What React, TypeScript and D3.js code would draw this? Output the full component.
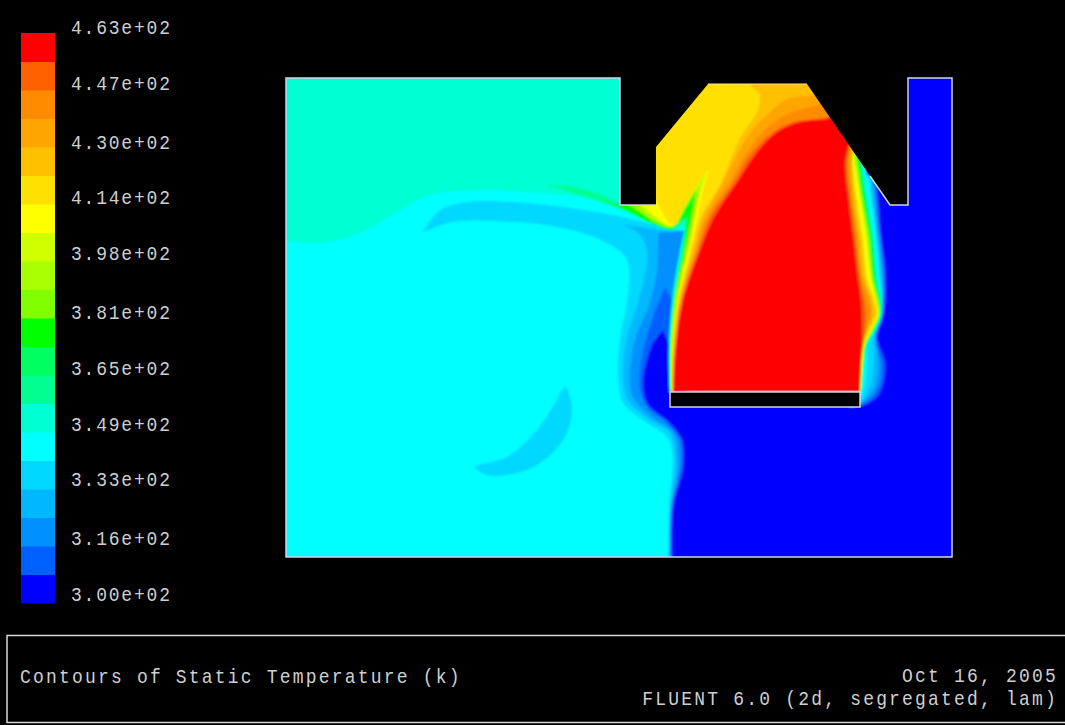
import React from "react";
import * as d3 from "d3";

type Pt = [number, number];

// Contour band colours, coolest to hottest
const bandColors = [
  "#0000ff", "#0060ff", "#0090ff", "#00b8ff", "#00d8ff",
  "#00ffff", "#00ffd2", "#00ff90", "#00ff60", "#00ff00",
  "#7fff00", "#a8ff00", "#d0ff00", "#ffff00", "#ffe000",
  "#ffc000", "#ffa500", "#ff8c00", "#ff6000", "#ff0000",
];
const tickValues = [463, 447, 430, 414, 398, 381, 365, 349, 333, 316, 300];
const tickLabels = [
  "4.63e+02", "4.47e+02", "4.30e+02", "4.14e+02", "3.98e+02", "3.81e+02",
  "3.65e+02", "3.49e+02", "3.33e+02", "3.16e+02", "3.00e+02",
];

// Geometry in mesh units (origin at the lower-left corner of the domain)
const DOMAIN: Pt[] = [[0,479],[334,479],[334,352],[370,352],[370,410],[422,473],[521,473],[604,352],[622,352],[622,479],[666,479],[666,0],[0,0]];
const WALL_LINE: Pt[] = [[370,352],[334,352],[334,479],[0,479],[0,0],[666,0],[666,479],[622,479],[622,352],[604,352],[584,381]];
const CHAMBER_TOP: Pt[] = [[422,473],[521,473]];
const OBSTACLE: Pt[] = [[384,165],[574,150]];

// Cool contours
const MINT_EDGE: Pt[] = [[-6,317],[34,314],[74,324],[109,344],[144,362],[194,367],[254,364],[314,357],[334,349],[354,339],[374,329],[386,326]];
const MINT_CLOSE: Pt[] = [[404,332],[404,497],[-6,497]];
const ARCH_TOP: Pt[] = [[136,324],[154,347],[181,355],[227,355],[277,350],[327,342],[361,334],[384,327]];
const ARCH_CLOSE: Pt[] = [[414,327],[414,497],[674,497],[674,-3],[382,-3]];
const ARCH_LOW: Pt[] = [[382,0],[383,50],[386,104],[381,120],[361,134],[337,154],[332,180],[334,220],[341,254],[341,297],[321,314],[277,329],[227,335],[167,335],[136,324]];
const CRESCENT: Pt[] = [[279,170],[286,147],[277,117],[251,92],[221,82],[201,82],[189,90],[221,100],[251,127],[269,154]];
const B3_TOP: Pt[] = [[337,332],[361,329],[386,325]];
const B3_CLOSE: Pt[] = [[414,325],[414,497],[674,497],[674,-3],[383,-3]];
const B3_LOW: Pt[] = [[383,0],[384,50],[389,95],[384,124],[364,137],[342,157],[337,180],[341,220],[352,254],[361,304],[354,322],[337,332]];
const B2_TOP: Pt[] = [[372,324],[392,326]];
const B2_CLOSE: Pt[] = [[414,326],[414,497],[674,497],[674,-3],[384,-3]];
const B2_LOW: Pt[] = [[384,0],[385,50],[392,92],[387,124],[367,139],[347,160],[344,180],[349,217],[364,254],[371,287],[372,324]];
const B1_CLOSE: Pt[] = [[379,270],[386,257],[394,257],[404,327],[404,497],[674,497],[674,-3],[385,-3]];
const B1_LOW: Pt[] = [[385,0],[386,50],[395,90],[394,117],[390,124],[377,137],[362,149],[354,167],[354,187],[359,214],[367,240],[379,270]];
const B0_CLOSE: Pt[] = [[377,227],[383,212],[394,212],[404,327],[404,497],[674,497],[674,-3],[386,-3]];
const B0_LOW: Pt[] = [[386,0],[387,50],[397,90],[396,117],[392,124],[381,137],[371,144],[361,154],[357,174],[361,197],[367,214],[377,227]];

// Plume on the right of the flame
const R1: Pt[] = [[590,379],[592,360],[595,320],[599,287],[599,257],[596,237],[591,220],[599,194],[597,174],[591,160],[576,151]];
const R2: Pt[] = [[588,379],[590,360],[594,320],[598,287],[598,257],[595,237],[590,220],[595,194],[594,174],[586,160],[575,152]];
const R3: Pt[] = [[586,381],[588,360],[592,320],[596,277],[597,257],[594,237],[589,220],[592,197],[590,174],[582,160],[575,153]];
const R4: Pt[] = [[585,382],[586,360],[591,320],[595,277],[596,257],[593,237],[588,220],[588,197],[585,174],[579,160],[575,154]];
const R5: Pt[] = [[580,387],[585,360],[590,320],[594,277],[596,257],[596,242],[590,227],[582,212],[581,192],[579,172],[575,157]];
const R7: Pt[] = [[576,392],[581,360],[587,320],[591,277],[595,257],[595,242],[589,227],[581,212],[578,192],[575,165]];
const R9: Pt[] = [[574,395],[578,360],[585,320],[589,277],[593,257],[594,242],[588,227],[580,212],[577,192],[575,165]];
const R11: Pt[] = [[571,399],[576,360],[583,320],[587,277],[592,257],[593,242],[587,227],[579,212],[576.5,192],[574.5,165]];
const R13: Pt[] = [[567,402],[574,360],[580,320],[585,277],[590,257],[592,242],[585,227],[578,212],[576,192],[574,165]];
const R14: Pt[] = [[565,405],[571,360],[577,320],[582,277],[589,257],[591,242],[584,227],[577.5,212],[574,165]];
const R15: Pt[] = [[566,402],[569,360],[575,320],[580,277],[587,257],[589,242],[583,227],[577,212],[574,165]];
const R16: Pt[] = [[566,407],[565,394],[567,360],[573,320],[578,277],[585,257],[587,242],[581,227],[576.5,212],[574,165]];
const R17: Pt[] = [[565,412],[563,394],[566,360],[571,320],[576,277],[582,257],[584,242],[580,227],[576,212],[574,165]];
const R18: Pt[] = [[564,412],[561,394],[564,360],[569,320],[574,277],[578,257],[580,242],[578,220],[575,197],[574,165]];
const R19: Pt[] = [[564,417],[559,394],[562,360],[567,320],[572,277],[575,257],[576,220],[574,182],[574,165]];
const PLUME_INNER: Pt[] = [[564,150],[564,380]];

// Flame, cold side
const L5: Pt[] = [[383.5,165],[382.5,207],[386,257],[394,307],[398,325]];
const L5_CLOSE: Pt[] = [[414,357],[594,487],[599,407]];
const TONGUE_UP7: Pt[] = [[334,352],[314,362],[287,370],[261,372]];
const TONGUE_LOW7: Pt[] = [[261,372],[287,364],[317,354],[341,345],[364,334],[384,327],[391,331],[399,338]];
const L7: Pt[] = [[399,338],[398,325],[395.5,307],[387,257],[383.5,207],[384,165]];
const TONGUE_UP9: Pt[] = [[334,352],[317,357]];
const TONGUE_LOW9: Pt[] = [[317,357],[341,346],[362,335],[382,328],[386,328],[394,335],[401,341]];
const L9: Pt[] = [[401,341],[400,327],[397,307],[388,257],[384,207],[384.5,165]];
const TONGUE_LOW11: Pt[] = [[342,353],[354,345],[369,335],[386,330],[394,340],[404,357],[410,367]];
const L11: Pt[] = [[410,367],[404,332],[399,307],[389,257],[385,207],[385,165]];
const TONGUE_LOW13: Pt[] = [[354,353],[369,340],[386,331],[396,347],[409,367],[421,385]];
const L13: Pt[] = [[421,385],[414,367],[408,337],[402,307],[391,257],[386,207],[385.5,165]];
const TONGUE_LOW14: Pt[] = [[370,357],[376,345],[384,333],[390,333],[398,349],[410,369],[423,389]];
const L14: Pt[] = [[423,389],[417,367],[411,339],[404,307],[392,257],[386.5,207],[386,165]];
const CHAMBER_CLOSE: Pt[] = [[594,487],[354,487],[354,362]];

// Flame, hot core
const L15: Pt[] = [[386.5,165],[387,207],[393,257],[406,307],[415,340],[434,372],[454,419],[471,445],[474,462],[464,473],[464,487]];
const L16: Pt[] = [[386.7,165],[388,207],[394,257],[408,307],[418,340],[436,372],[447,395],[464,424],[484,445],[504,459],[527,462],[534,467]];
const L17: Pt[] = [[387,165],[388.5,207],[395,257],[410,307],[421,340],[444,375],[461,405],[481,429],[504,444],[531,452],[539,457]];
const L18: Pt[] = [[387,165],[389,207],[396,257],[412,307],[424,340],[447,374],[464,402],[487,425],[507,435],[541,440],[549,445]];
const L19: Pt[] = [[387.5,165],[389.5,207],[397,257],[414,307],[428,340],[451,375],[471,405],[491,425],[514,435],[544,439],[552,445]];
const HOT_CLOSE: Pt[] = [[594,487],[600,430]];

const x = d3.scaleLinear().domain([0, 666]).range([286, 952]);
const y = d3.scaleLinear().domain([0, 479]).range([557, 78]);
const legendY = d3.scaleLinear().domain([300, 463]).range([594, 27]);
const legendBand = d3.scaleBand<number>().domain(d3.range(19, -1, -1)).range([33, 603]);

const curved = d3.line<Pt>().x((p) => x(p[0])).y((p) => y(p[1])).curve(d3.curveCatmullRom.alpha(0.5));
const curvedLoop = d3.line<Pt>().x((p) => x(p[0])).y((p) => y(p[1])).curve(d3.curveCatmullRomClosed.alpha(0.5));
const straight = d3.line<Pt>().x((p) => x(p[0])).y((p) => y(p[1]));
const c = (pts: Pt[]) => curved(pts) as string;
const s = (pts: Pt[]) => straight(pts) as string;
const rev = (pts: Pt[]) => [...pts].reverse();
const join = (...parts: string[]) => parts.map((p, i) => (i ? p.replace(/^M/, "L") : p)).join("") + "Z";

const chamber = (band: number, low: Pt[], left: Pt[], right: Pt[], up?: Pt[]) => ({
  band,
  d: join(c(low), c(left), c(rev(right)), s(CHAMBER_CLOSE), ...(up ? [c(up)] : [])),
});
const hot = (band: number, left: Pt[], right: Pt[]) => ({
  band,
  d: join(c(left), s(HOT_CLOSE), c(right)),
});
const plume = (band: number, right: Pt[]) => ({ band, d: join(c(right), s(PLUME_INNER)) });

const layers = [
  { band: 6, d: join(c(MINT_EDGE), s(MINT_CLOSE)) },
  { band: 4, d: join(c(ARCH_TOP), s(ARCH_CLOSE), c(ARCH_LOW)) },
  { band: 4, d: curvedLoop(CRESCENT) as string },
  { band: 3, d: join(c(B3_TOP), s(B3_CLOSE), c(B3_LOW)) },
  { band: 2, d: join(c(B2_TOP), s(B2_CLOSE), c(B2_LOW)) },
  { band: 1, d: join(s(B1_CLOSE), c(B1_LOW)) },
  { band: 0, d: join(s(B0_CLOSE), c(B0_LOW)) },
  plume(1, R1),
  plume(2, R2),
  plume(3, R3),
  plume(4, R4),
  { band: 5, d: join(c(L5), s(L5_CLOSE), c(R5)) },
  chamber(7, TONGUE_LOW7, L7, R7, TONGUE_UP7),
  chamber(9, TONGUE_LOW9, L9, R9, TONGUE_UP9),
  chamber(11, TONGUE_LOW11, L11, R11),
  chamber(13, TONGUE_LOW13, L13, R13),
  chamber(14, TONGUE_LOW14, L14, R14),
  hot(15, L15, R15),
  hot(16, L16, R16),
  hot(17, L17, R17),
  hot(18, L18, R18),
  hot(19, L19, R19),
];

const textFill = "#cfcfcf";
const mono = "'Liberation Mono', monospace";

function Label({ px, py, anchor = "start", spacing = 1.8, children }: { px: number; py: number; anchor?: string; spacing?: number; children: string }) {
  return (
    <text
      transform={`translate(${px},${py}) scale(1,1.15)`}
      textAnchor={anchor}
      fontFamily={mono}
      fontSize={18}
      letterSpacing={spacing}
      fill={textFill}
    >
      {children}
    </text>
  );
}

export default function App() {
  return (
    <svg
      width={1065}
      height={725}
      viewBox="0 0 1065 725"
      style={{ position: "absolute", left: 0, top: 0, display: "block", background: "#000" }}
    >
      <defs>
        <clipPath id="domain">
          <path d={s(DOMAIN) + "Z"} />
        </clipPath>
        <filter id="soft" x="-5%" y="-5%" width="110%" height="110%">
          <feGaussianBlur stdDeviation={1} />
        </filter>
      </defs>
      <rect width={1065} height={725} fill="#000" />

      {/* legend */}
      {d3.range(20).map((b) => (
        <rect
          key={b}
          x={21}
          y={legendBand(b)}
          width={34}
          height={legendBand.bandwidth() + 0.5}
          fill={bandColors[b]}
        />
      ))}
      {tickValues.map((v, i) => (
        <Label key={v} px={71} py={legendY(v) + 7}>
          {tickLabels[i]}
        </Label>
      ))}

      {/* field */}
      <g clipPath="url(#domain)">
        <g filter="url(#soft)">
          <path d={s(DOMAIN) + "Z"} fill={bandColors[5]} stroke={bandColors[5]} strokeWidth={6} />
          {layers.map((l, i) => (
            <path key={i} d={l.d} fill={bandColors[l.band]} />
          ))}
        </g>
      </g>

      {/* walls */}
      <path d={s(WALL_LINE)} fill="none" stroke="#d4d4e4" strokeWidth={1.5} />
      <path d={s(CHAMBER_TOP)} fill="none" stroke="#f4e8a0" strokeWidth={1.2} />
      <rect
        x={x(OBSTACLE[0][0])}
        y={y(OBSTACLE[0][1])}
        width={x(OBSTACLE[1][0]) - x(OBSTACLE[0][0])}
        height={y(OBSTACLE[1][1]) - y(OBSTACLE[0][1])}
        fill="#000"
        stroke="#d4d4e4"
        strokeWidth={1.5}
      />

      {/* footer */}
      <path d="M1065,635.5H7V722.5H1065" fill="none" stroke="#d8d8d8" strokeWidth={1.5} />
      <Label px={20} py={683} spacing={2.2}>Contours of Static Temperature (k)</Label>
      <Label px={1058} py={682} anchor="end" spacing={2.2}>Oct 16, 2005</Label>
      <Label px={1058} py={705} anchor="end" spacing={2.2}>FLUENT 6.0 (2d, segregated, lam)</Label>
    </svg>
  );
}
